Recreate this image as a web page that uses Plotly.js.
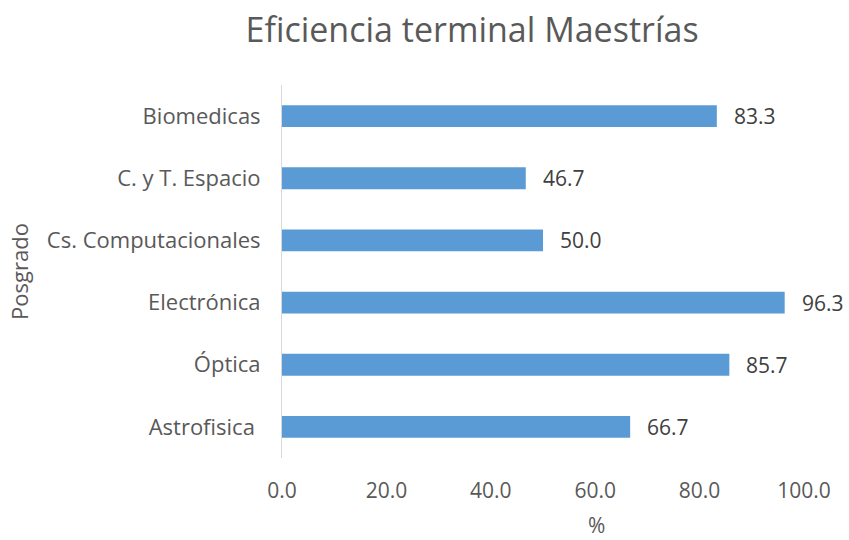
<!DOCTYPE html>
<html>
<head>
<meta charset="utf-8">
<script src="https://cdn.plot.ly/plotly-3.0.1.min.js"></script>
<style>html,body{margin:0;padding:0;background:#fff;}#chart{width:849px;height:540px;}</style>
</head>
<body>
<div id="chart"></div>
<script>
const categories = ["Biomedicas", "C. y T. Espacio", "Cs. Computacionales", "Electrónica", "Óptica", "Astrofisica "];
const values = [83.3, 46.7, 50.0, 96.3, 85.7, 66.7];
const xTicks = [0, 20, 40, 60, 80, 100];

const FONT = "Open Sans, Noto Sans, sans-serif";

const trace = {
  type: "bar",
  orientation: "h",
  y: categories,
  x: values,
  width: 0.35,
  marker: {color: "#5B9BD5", line: {width: 0}},
  hoverinfo: "x+y"
};

const annotations = categories.map((c, i) => ({
  x: values[i], y: c, xref: "x", yref: "y",
  text: values[i].toFixed(1),
  showarrow: false, xanchor: "left", xshift: 15,
  font: {family: FONT, size: 21, color: "#404040"}
}));

// x-axis title ("%"), placed as in the reference (offset to the right of centre)
annotations.push({
  text: "%", xref: "paper", yref: "paper", x: 0.603, y: -0.18,
  xanchor: "center", yanchor: "middle", showarrow: false, borderpad: 0,
  font: {family: FONT, size: 21, color: "#595959"}
});

const layout = {
  width: 849, height: 540,
  margin: {l: 282, r: 45, t: 85, b: 82},
  paper_bgcolor: "#fff", plot_bgcolor: "#fff",
  title: {text: "Eficiencia terminal Maestrías", x: 0.556, xanchor: "center", y: 0.944, yanchor: "middle",
          font: {family: FONT, size: 34, color: "#595959"}},
  xaxis: {
    range: [0, 100], tickvals: xTicks, ticktext: xTicks.map(v => v.toFixed(1)),
    showgrid: false, zeroline: false, showline: false, ticks: "",
    tickfont: {family: FONT, size: 21, color: "#595959"},
    ticklabelstandoff: 18
  },
  yaxis: {
    autorange: "reversed", type: "category",
    showgrid: false, zeroline: false, showline: true, linecolor: "#d9d9d9", linewidth: 1,
    ticks: "", ticklabelstandoff: 16,
    tickfont: {family: FONT, size: 22, color: "#595959"},
    title: {text: "Posgrado", font: {family: FONT, size: 22, color: "#595959"}, standoff: 12}
  },
  annotations: annotations,
  showlegend: false
};

Plotly.newPlot("chart", [trace], layout, {displayModeBar: false, staticPlot: true});
</script>
</body>
</html>
